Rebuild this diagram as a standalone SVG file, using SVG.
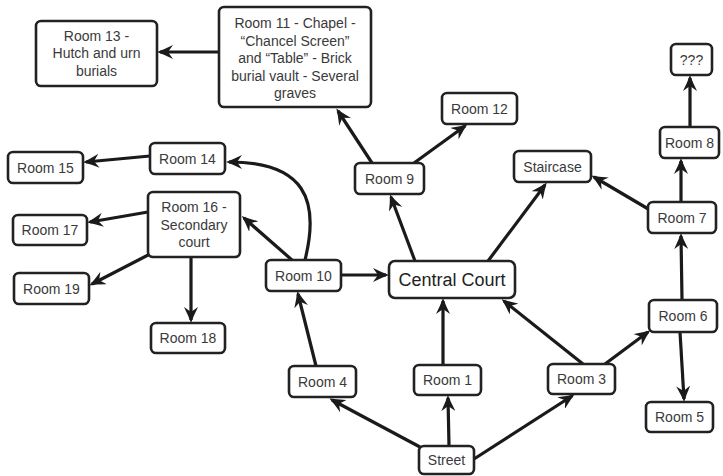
<svg xmlns="http://www.w3.org/2000/svg" width="723" height="476" viewBox="0 0 723 476">
  <style>
    .box { fill: #fff; stroke: #222; stroke-width: 2.6; }
    .lbl { font-family: "Liberation Sans", Arial, sans-serif; font-size: 14px; fill: #3a3a3a; text-anchor: middle; }
    .big { font-size: 18px; fill: #222; }
    .edge { fill: none; stroke: #1a1a1a; stroke-width: 3.2; }
  </style>
  <defs>
    <!-- barbed arrowhead with a deep notch -->
    <marker id="arrow" viewBox="0 0 16 14" refX="13" refY="7" markerWidth="16" markerHeight="14" markerUnits="userSpaceOnUse" orient="auto">
      <path d="M0,0 Q9,4.5 16,7 Q9,9.5 0,14 L5,7 Z" fill="#1a1a1a"/>
    </marker>
  </defs>
  <rect width="723" height="476" fill="#fff"/>

  <g id="connectors" class="edge" marker-end="url(#arrow)">
    <path d="M219,52 L160,52"/>
    <path d="M372,163 L338,111"/>
    <path d="M414,163 L465,126"/>
    <path d="M415,261 L391,197"/>
    <path d="M488,261 L545,185"/>
    <path d="M341,275 L386,275"/>
    <path d="M292,260 L244,218"/>
    <path d="M305,260 C320,200 305,162 229,162"/>
    <path d="M150,156 L86,162"/>
    <path d="M148,212 L90,222"/>
    <path d="M150,254 L92,284"/>
    <path d="M191,258 L191,320"/>
    <path d="M316,366 L298,294"/>
    <path d="M420,447 L332,400"/>
    <path d="M449,446 L448,398"/>
    <path d="M474,459 L572,396"/>
    <path d="M443,365 L443,301"/>
    <path d="M583,364 L504,301"/>
    <path d="M605,364 L648,332"/>
    <path d="M682,300 L681,236"/>
    <path d="M680,332 L684,399"/>
    <path d="M650,210 L594,177"/>
    <path d="M681,202 L681,161"/>
    <path d="M690,127 L690,78"/>
  </g>

  <g id="room13">
    <rect class="box" x="36" y="21" width="121" height="65" rx="5"/>
    <text class="lbl" x="96.5" y="41">Room 13 -</text>
    <text class="lbl" x="96.5" y="58">Hutch and urn</text>
    <text class="lbl" x="96.5" y="76">burials</text>
  </g>
  <g id="room11">
    <rect class="box" x="219" y="7" width="152" height="100" rx="5"/>
    <text class="lbl" x="295" y="28">Room 11 - Chapel -</text>
    <text class="lbl" x="295" y="46">“Chancel Screen”</text>
    <text class="lbl" x="295" y="63">and “Table” - Brick</text>
    <text class="lbl" x="295" y="81">burial vault - Several</text>
    <text class="lbl" x="295" y="98">graves</text>
  </g>
  <g id="room15">
    <rect class="box" x="8" y="152" width="75" height="31" rx="5"/>
    <text class="lbl" x="45.5" y="172.5">Room 15</text>
  </g>
  <g id="room14">
    <rect class="box" x="150" y="143" width="75" height="31" rx="5"/>
    <text class="lbl" x="187.5" y="163.5">Room 14</text>
  </g>
  <g id="room16">
    <rect class="box" x="148" y="192" width="92" height="65" rx="5"/>
    <text class="lbl" x="194" y="212">Room 16 -</text>
    <text class="lbl" x="194" y="230">Secondary</text>
    <text class="lbl" x="194" y="247">court</text>
  </g>
  <g id="room17">
    <rect class="box" x="13" y="215" width="74" height="30" rx="5"/>
    <text class="lbl" x="50" y="235">Room 17</text>
  </g>
  <g id="room19">
    <rect class="box" x="14" y="273" width="75" height="31" rx="5"/>
    <text class="lbl" x="51.5" y="293.5">Room 19</text>
  </g>
  <g id="room18">
    <rect class="box" x="151" y="323" width="74" height="30" rx="5"/>
    <text class="lbl" x="188" y="343">Room 18</text>
  </g>
  <g id="room10">
    <rect class="box" x="266" y="260" width="75" height="31" rx="5"/>
    <text class="lbl" x="303.5" y="280.5">Room 10</text>
  </g>
  <g id="room4">
    <rect class="box" x="289" y="366" width="67" height="31" rx="5"/>
    <text class="lbl" x="322.5" y="386.5">Room 4</text>
  </g>
  <g id="unknown">
    <rect class="box" x="671" y="44" width="41" height="31" rx="5"/>
    <text class="lbl" x="691.5" y="64.5">???</text>
  </g>
  <g id="room12">
    <rect class="box" x="442" y="93" width="75" height="31" rx="5"/>
    <text class="lbl" x="479.5" y="113.5">Room 12</text>
  </g>
  <g id="room9">
    <rect class="box" x="355" y="163" width="69" height="31" rx="5"/>
    <text class="lbl" x="389.5" y="183.5">Room 9</text>
  </g>
  <g id="staircase">
    <rect class="box" x="514" y="151" width="77" height="31" rx="5"/>
    <text class="lbl" x="552.5" y="171.5">Staircase</text>
  </g>
  <g id="room8">
    <rect class="box" x="660" y="127" width="59" height="31" rx="5"/>
    <text class="lbl" x="689.5" y="147.5">Room 8</text>
  </g>
  <g id="room7">
    <rect class="box" x="648" y="202" width="68" height="31" rx="5"/>
    <text class="lbl" x="682" y="222.5">Room 7</text>
  </g>
  <g id="central-court">
    <rect class="box" x="389" y="261" width="126" height="37" rx="6"/>
    <text class="lbl big" x="452" y="286">Central Court</text>
  </g>
  <g id="room1">
    <rect class="box" x="414" y="365" width="67" height="30" rx="5"/>
    <text class="lbl" x="447.5" y="385">Room 1</text>
  </g>
  <g id="room3">
    <rect class="box" x="548" y="364" width="67" height="30" rx="5"/>
    <text class="lbl" x="581.5" y="384">Room 3</text>
  </g>
  <g id="room6">
    <rect class="box" x="649" y="300" width="68" height="32" rx="5"/>
    <text class="lbl" x="683" y="321">Room 6</text>
  </g>
  <g id="room5">
    <rect class="box" x="646" y="402" width="67" height="30" rx="5"/>
    <text class="lbl" x="679.5" y="422">Room 5</text>
  </g>
  <g id="street">
    <rect class="box" x="419" y="446" width="55" height="28" rx="5"/>
    <text class="lbl" x="446.5" y="465">Street</text>
  </g>
</svg>
